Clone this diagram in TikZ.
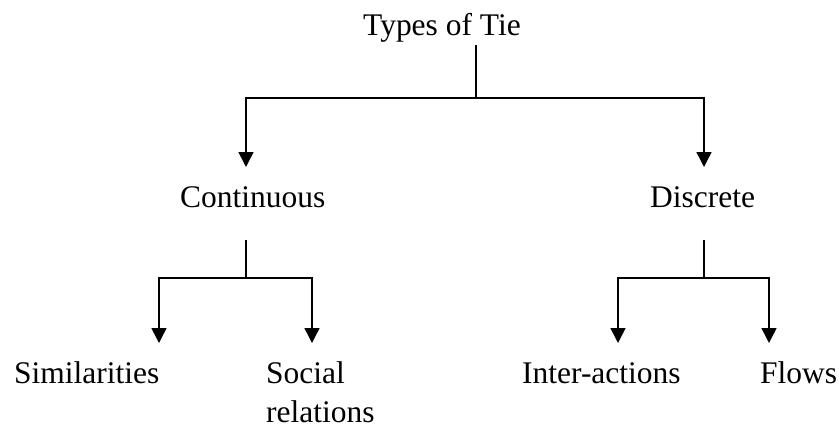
\documentclass[tikz,border=0pt]{standalone}
\usepackage{fontspec}
\setmainfont{Liberation Serif}
\usetikzlibrary{arrows.meta}
\begin{document}
\begin{tikzpicture}[x=1bp,y=-1bp,
  label/.style={anchor=base west,inner sep=0pt,font=\fontsize{31.6}{40}\selectfont},
  link/.style={line width=1.5bp},
  arr/.style={link,-{Triangle[width=15bp,length=15bp]}}]
\useasboundingbox (0,0) rectangle (839,429);

% labels
\node[label] (root) at (363,35) {Types of Tie};
\node[label] (cont) at (180,207) {Continuous};
\node[label] (disc) at (650,207) {Discrete};
\node[label] (simi) at (14,383) {Similarities};
\node[label] (soci) at (266,383) {\vtop{\hbox{Social}\hbox{relations}}};
\node[label] (inter) at (522,383) {Inter-actions};
\node[label] (flow) at (760,383) {Flows};

% stems and junctions
\coordinate (rootstem) at (476,45);
\coordinate (j0) at (476,98);
\coordinate (conttip) at (246,167);
\coordinate (disctip) at (704,167);
\coordinate (contstem) at (246,240);
\coordinate (j1) at (246,278);
\coordinate (discstem) at (704,240);
\coordinate (j2) at (704,278);
\coordinate (simitip) at (159,343);
\coordinate (socitip) at (312,343);
\coordinate (intertip) at (618,343);
\coordinate (flowtip) at (769,343);

% top level
\draw[link] (rootstem) -- (j0);
\draw[arr] (j0) -| (conttip);
\draw[arr] (j0) -| (disctip);

% continuous branch
\draw[link] (contstem) -- (j1);
\draw[arr] (j1) -| (simitip);
\draw[arr] (j1) -| (socitip);

% discrete branch
\draw[link] (discstem) -- (j2);
\draw[arr] (j2) -| (intertip);
\draw[arr] (j2) -| (flowtip);
\end{tikzpicture}
\end{document}
